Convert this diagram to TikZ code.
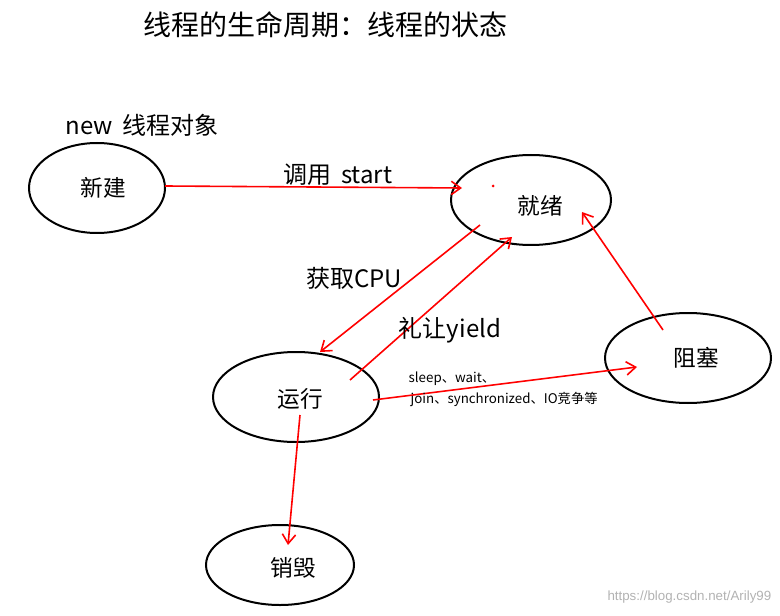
\documentclass[tikz,border=0pt]{standalone}
\usepackage{fontspec}
\setmainfont{Liberation Sans}
\newfontfamily\cjk{Noto Sans CJK SC}
\usetikzlibrary{arrows.meta}
\begin{document}
\begin{tikzpicture}[x=0.75pt,y=-0.75pt,
  st/.style={draw=black,line width=1.5pt},
  ar/.style={draw=red,line width=1.2pt,-{Straight Barb[length=7pt,width=10pt]}},
  lb/.style={font=\cjk\fontsize{17}{19}\selectfont}]
\useasboundingbox (0,0) rectangle (780,616);
\draw[st] (97,188) ellipse [x radius=68, y radius=45];
\node[lb] (xj) at (103,188) {新建};
\draw[st] (531,200) ellipse [x radius=80, y radius=45];
\node[lb] (jx) at (540,206) {就绪};
\draw[st] (296,397) ellipse [x radius=83, y radius=45];
\node[lb] (yx) at (300,399) {运行};
\draw[st] (688,358) ellipse [x radius=83, y radius=45];
\node[lb] (zs) at (696,358) {阻塞};
\draw[st] (280,565) ellipse [x radius=74, y radius=40];
\node[lb] (xh) at (293,568) {销毁};
\node[font=\cjk\fontsize{21}{24}\selectfont] (title) at (325,25) {线程的生命周期：线程的状态};
\node[font=\cjk\fontsize{18}{20}\selectfont] (new) at (142,125) {new\, 线程对象};
\coordinate (a1) at (165,186); \coordinate (a2) at (462,188);
\draw[ar] (a1) -- (a2);
\node[font=\cjk\fontsize{18}{20}\selectfont] (l1) at (338,175) {调用\, start};
\fill[red] (493,186) circle (1.5);
\coordinate (b1) at (480,225); \coordinate (b2) at (320,352);
\draw[ar] (b1) -- (b2);
\node[font=\cjk\fontsize{18}{20}\selectfont] (l2) at (354,278) {获取CPU};
\coordinate (c1) at (350,380); \coordinate (c2) at (512,237);
\draw[ar] (c1) -- (c2);
\node[font=\cjk\fontsize{18}{20}\selectfont] (l3) at (450,330) {礼让yield};
\coordinate (d1) at (663,330); \coordinate (d2) at (582,212);
\draw[ar] (d1) -- (d2);
\coordinate (e1) at (373,400); \coordinate (e2) at (637,367);
\draw[ar] (e1) -- (e2);
\node[font=\cjk\fontsize{10}{11}\selectfont,anchor=west] (l4) at (404,379) {sleep、wait、};
\node[font=\cjk\fontsize{10}{11}\selectfont,anchor=west] (l5) at (406,399) {join、synchronized、IO竞争等};
\coordinate (f1) at (300,415); \coordinate (f2) at (288,545);
\draw[ar] (f1) -- (f2);
\node[text=gray!60,font=\fontsize{10}{12}\selectfont,anchor=east] (wm) at (776,597) {https://blog.csdn.net/Arily99};
\end{tikzpicture}
\end{document}
